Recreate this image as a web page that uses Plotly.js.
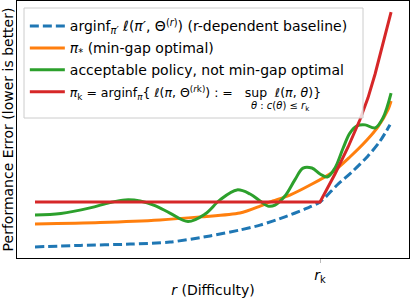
<!DOCTYPE html>
<html>
<head>
<meta charset="utf-8">
<script src="https://cdn.plot.ly/plotly-3.0.1.min.js"></script>
<style>html,body{margin:0;padding:0;background:#fff;}#chart{width:410px;height:298px;}</style>
</head>
<body>
<div id="chart"></div>
<script>
// r (difficulty) axis values and performance error values
const baselineR = [0, 1.27, 2.68, 3.80, 4.93, 5.77, 6.34, 7.04, 7.61, 8.03, 8.51, 8.96, 9.38, 9.72, 10.0];
const baselineErr = [0.43, 0.49, 0.54, 0.62, 0.86, 1.09, 1.28, 1.60, 1.91, 2.18, 2.84, 3.39, 3.97, 4.55, 5.18];

const optimalR = [0, 1.83, 3.52, 4.65, 5.77, 6.34, 6.62, 7.18, 7.75, 8.39, 8.87, 9.35, 9.66, 9.94, 10.03];
const optimalErr = [1.32, 1.38, 1.48, 1.60, 1.75, 2.02, 2.18, 2.45, 2.84, 3.35, 3.93, 4.59, 5.10, 5.76, 6.11];

const acceptR = [0, 0.73, 1.55, 2.11, 2.54, 2.96, 3.38, 3.80, 4.31, 4.79, 5.21, 5.69, 6.06, 6.34, 6.56, 6.76, 7.04, 7.32, 7.55, 7.80, 8.03, 8.23, 8.45, 8.68, 8.87, 9.07, 9.30, 9.58, 9.80, 10.03];
const acceptErr = [1.67, 1.73, 1.95, 2.16, 2.26, 2.22, 2.04, 1.75, 1.42, 1.71, 2.26, 2.65, 2.49, 2.22, 2.02, 2.06, 2.41, 3.04, 3.50, 3.50, 3.27, 3.15, 3.50, 4.28, 4.86, 5.14, 5.18, 5.06, 5.45, 6.42];

const robustR = [0, 8.03, 8.45, 8.82, 9.15, 9.38, 9.58, 9.80, 10.03];
const robustErr = [2.18, 2.18, 3.27, 4.32, 5.37, 6.23, 7.16, 8.37, 9.57];

const rkValue = [8.03];
const rkLabel = ['<i>r</i><sub>k</sub>'];

const names = [
  'arginf<sub><i>π′</i></sub> <i>ℓ</i>(<i>π′</i>, Θ<sup>(<i>r</i>)</sup>) (r-dependent baseline)',
  '<i>π</i><sub>*</sub> (min-gap optimal)',
  'acceptable policy, not min-gap optimal',
  '<span style="font-size:12.5px"><i>π</i><sub>k</sub> = arginf<sub><i>π</i></sub>{ <i>ℓ</i>(<i>π</i>, Θ<sup>(<i>r</i>k)</sup>) : =\u00a0\u00a0\u00a0sup\u00a0\u00a0<i>ℓ</i>(<i>π</i>, <i>θ</i>)}</span>'
];
const supSubscript = '<i>θ</i> : <i>c</i>(<i>θ</i>) ≤ <i>r</i><sub>k</sub>';

const traces = [
  {x: baselineR, y: baselineErr, mode: 'lines', name: names[0], legendgroup: 'a',
   line: {color: '#1f77b4', width: 3, dash: '9px,4px', shape: 'spline', smoothing: 0.8}},
  {x: optimalR, y: optimalErr, mode: 'lines', name: names[1], legendgroup: 'b',
   line: {color: '#ff7f0e', width: 3, shape: 'spline', smoothing: 0.8}},
  {x: acceptR, y: acceptErr, mode: 'lines', name: names[2], legendgroup: 'c',
   line: {color: '#2ca02c', width: 3, shape: 'spline', smoothing: 1}},
  {x: robustR, y: robustErr, mode: 'lines', name: names[3], legendgroup: 'd',
   line: {color: '#d62728', width: 3}}
];

const layout = {
  width: 410, height: 298,
  margin: {l: 17, r: 1, t: 1, b: 40},
  paper_bgcolor: '#fff', plot_bgcolor: '#fff',
  font: {family: 'DejaVu Sans', size: 14, color: '#000'},
  showlegend: true,
  legend: {
    x: 0.02, y: 0.9634, xanchor: 'left', yanchor: 'top',
    bgcolor: 'rgba(0,0,0,0)', borderwidth: 0,
    itemwidth: 35, traceorder: 'grouped', tracegroupgap: 0.7,
    font: {family: 'DejaVu Sans', size: 14, color: '#000'}
  },
  xaxis: {
    range: [-0.507, 10.535], showgrid: false, zeroline: false,
    showline: true, mirror: true, linecolor: '#000', linewidth: 1,
    tickmode: 'array', tickvals: rkValue, ticktext: rkLabel,
    ticks: 'outside', ticklen: 4, tickcolor: '#bbb',
    tickfont: {family: 'DejaVu Sans', size: 14},
    title: {text: '<i>r</i> (Difficulty)', font: {family: 'DejaVu Sans', size: 14}, standoff: 6},
    automargin: false
  },
  yaxis: {
    range: [0, 10], showgrid: false, zeroline: false,
    showline: true, mirror: true, linecolor: '#000', linewidth: 1,
    showticklabels: false, ticks: '',
    title: {text: 'Performance Error (lower is better)', font: {family: 'DejaVu Sans', size: 14}, standoff: 2},
    automargin: false
  },
  shapes: [{
    type: 'rect', xref: 'paper', yref: 'paper', layer: 'above',
    x0: (24 - 17) / 392, x1: (363 - 17) / 392,
    y0: (258 - 118) / 257, y1: (258 - 8) / 257,
    fillcolor: 'rgba(255,255,255,0.8)', line: {color: '#cccccc', width: 1}
  }],
  annotations: [{
    xref: 'paper', yref: 'paper', x: (280 - 17) / 392, y: (258 - 106) / 257,
    xanchor: 'center', yanchor: 'middle', showarrow: false,
    text: supSubscript, font: {family: 'DejaVu Sans', size: 10, color: '#000'}
  }]
};

Plotly.newPlot('chart', traces, layout, {displayModeBar: false, staticPlot: true});
</script>
</body>
</html>
